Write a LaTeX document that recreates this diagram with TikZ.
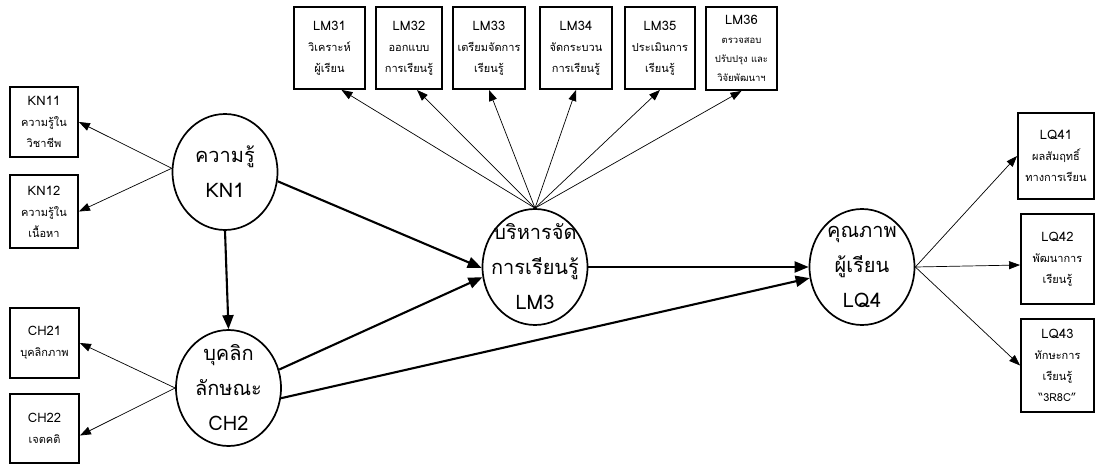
\documentclass[tikz,border=0pt]{standalone}
\usepackage{fontspec}
\setmainfont[Script=Thai]{Loma}
\usetikzlibrary{arrows.meta,shapes.geometric,calc}
\begin{document}
\begin{tikzpicture}[x=1pt,y=-1pt,
  ell/.style={ellipse,draw,line width=1.7pt,minimum width=105pt,minimum height=116pt,inner sep=0pt},
  elltext/.style={align=center,font=\fontsize{20}{35}\selectfont,inner sep=0pt},
  box/.style={draw,line width=1.9pt,align=center,inner sep=0pt,font=\fontsize{11}{21}\selectfont},
  thin/.style={line width=0.7pt,-{Triangle[length=11pt,width=8pt]}},
  thick/.style={line width=2.1pt,-{Triangle[length=14pt,width=11pt]}}]
\useasboundingbox (0,0) rectangle (1095,465);
\newcommand{\lab}[1]{{\fontsize{13}{21}\selectfont #1}}
% ellipses
\node[ell] (KN1) at (225,172) {};
\node[elltext] (KN1t) at (KN1) {ความรู้\\KN1};
\node[ell] (CH2) at (228.5,388) {};
\node[elltext] (CH2t) at (CH2) {บุคลิก\\ลักษณะ\\CH2};
\node[ell] (LM3) at (535,267) {};
\node[elltext] (LM3t) at (LM3) {บริหารจัด\\การเรียนรู้\\LM3};
\node[ell] (LQ4) at (862,267) {};
\node[elltext] (LQ4t) at (LQ4) {คุณภาพ\\ผู้เรียน\\LQ4};
% left boxes
\node[box,minimum width=68pt,minimum height=70pt] (KN11) at (44,122) {\lab{KN11}\\ความรู้ใน\\วิชาชีพ};
\node[box,minimum width=68pt,minimum height=73pt] (KN12) at (44,211.5) {\lab{KN12}\\ความรู้ใน\\เนื้อหา};
\node[box,minimum width=69pt,minimum height=70pt] (CH21) at (44.5,343) {\lab{CH21}\\บุคลิกภาพ};
\node[box,minimum width=69pt,minimum height=69pt] (CH22) at (44.5,428.5) {\lab{CH22}\\เจตคติ};
% top boxes
\node[box,minimum width=71pt,minimum height=82pt] (LM31) at (329.5,48) {\lab{LM31}\\วิเคราะห์\\ผู้เรียน};
\node[box,minimum width=66pt,minimum height=82pt] (LM32) at (409,48) {\lab{LM32}\\ออกแบบ\\การเรียนรู้};
\node[box,minimum width=72pt,minimum height=82pt] (LM33) at (489,48) {\lab{LM33}\\เตรียมจัดการ\\เรียนรู้};
\node[box,minimum width=72pt,minimum height=82pt] (LM34) at (576,48) {\lab{LM34}\\จัดกระบวน\\การเรียนรู้};
\node[box,minimum width=70pt,minimum height=82pt] (LM35) at (660,48) {\lab{LM35}\\ประเมินการ\\เรียนรู้};
\node[box,minimum width=71pt,minimum height=83pt,font=\fontsize{9.5}{19}\selectfont] (LM36) at (741.5,48.5) {\lab{LM36}\\ตรวจสอบ\\ปรับปรุง และ\\วิจัยพัฒนาฯ};
% right boxes
\node[box,minimum width=76pt,minimum height=86pt] (LQ41) at (1056,156) {\lab{LQ41}\\ผลสัมฤทธิ์\\ทางการเรียน};
\node[box,minimum width=73pt,minimum height=90pt] (LQ42) at (1057.5,259) {\lab{LQ42}\\พัฒนาการ\\เรียนรู้};
\node[box,minimum width=73pt,minimum height=93pt] (LQ43) at (1057.5,365.5) {\lab{LQ43}\\ทักษะการ\\เรียนรู้\\“3R8C”};
% thin arrows
\draw[thin] (KN1.176) -- (KN11.east);
\draw[thin] (KN1.176) -- (KN12.east);
\draw[thin] (CH2.west) -- (CH21.east);
\draw[thin] (CH2.west) -- ($(CH22.east)+(0,7)$);
\draw[thin] (LM3.north) -- ($(LM31.south)+(12,0)$);
\draw[thin] (LM3.north) -- ($(LM32.south)+(8,0)$);
\draw[thin] (LM3.north) -- (LM33.south);
\draw[thin] (LM3.north) -- (LM34.south);
\draw[thin] (LM3.north) -- (LM35.south);
\draw[thin] (LM3.north) -- (LM36.south);
\draw[thin] (LQ4.east) -- (LQ41.west);
\draw[thin] (LQ4.east) -- ($(LQ42.west)+(0,6)$);
\draw[thin] (LQ4.east) -- (LQ43.west);
% thick arrows
\draw[thick] (KN1.south) -- (CH2.north);
\draw[thick] (KN1.350) -- (LM3.181);
\draw[thick] (CH2.20) -- (LM3.191);
\draw[thick] (CH2.349) -- (LQ4.192);
\draw[thick] (LM3.east) -- (LQ4.west);
\end{tikzpicture}
\end{document}
